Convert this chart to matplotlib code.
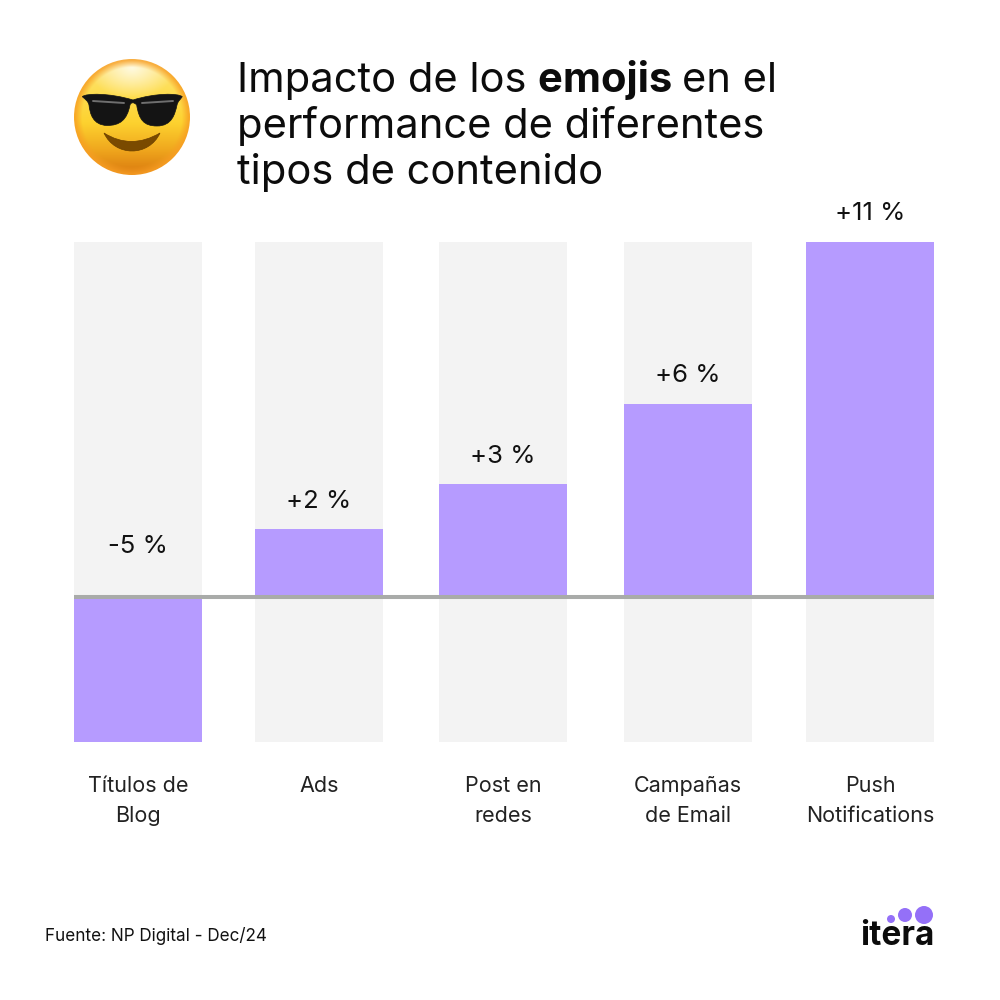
import numpy as np
import matplotlib
matplotlib.use("Agg")
import matplotlib.pyplot as plt
from matplotlib.patches import Circle, Ellipse, PathPatch
from matplotlib.path import Path
from matplotlib.colors import LinearSegmentedColormap

categories = ["Títulos de\nBlog", "Ads", "Post en\nredes", "Campañas\nde Email", "Push\nNotifications"]
bar_heights = [-4.51, 2.09, 3.49, 5.99, 11.0]
value_labels = ["-5 %", "+2 %", "+3 %", "+6 %", "+11 %"]
source = "Fuente: NP Digital - Dec/24"

FONT = "Inter"
PURPLE = "#B69BFF"
GREY = "#F3F3F3"
plt.rcParams["font.family"] = FONT

W = 1000
fig = plt.figure(figsize=(10, 10), dpi=100, facecolor="white")

def px_axes(l, t, r, b):
    return fig.add_axes([l / W, 1 - b / W, (r - l) / W, (b - t) / W])

centers = [138, 319, 503, 688, 870]
ax = px_axes(74, 242, 934, 742)
ax.set_xlim(74, 934)
ax.set_ylim(-4.51, 11)
ax.axis("off")
ax.bar(centers, [11 + 4.51] * 5, bottom=-4.51, width=128, color=GREY, linewidth=0, zorder=1)
ax.bar(centers, bar_heights, width=128, color=PURPLE, linewidth=0, zorder=2)
ax.plot([74, 934], [0, 0], color="#A9ABA9", lw=2.9, solid_capstyle="butt", zorder=3)

for c, h, t in zip(centers, bar_heights, value_labels):
    base, off = (h, 28) if h > 0 else (0, 50)
    ax.annotate(t, (c, base), xytext=(0, off * 0.72), textcoords="offset points",
                ha="center", va="center", fontsize=18.5, color="#111111", annotation_clip=False)

ov = fig.add_axes([0, 0, 1, 1], zorder=5)
ov.set_xlim(0, 1000)
ov.set_ylim(1000, 0)
ov.axis("off")
ov.patch.set_alpha(0)

for c, t in zip(centers, categories):
    ov.text(c, 776.5, t, ha="center", va="top", fontsize=15.5, color="#222222", linespacing=1.6,
            multialignment="center")

ov.text(45, 936, source, ha="left", va="center", fontsize=12.3, color="#111111")

# title
fig.canvas.draw()
rend = fig.canvas.get_renderer()
def run(x, y, s, weight="normal", size=30):
    t = ov.text(x, y, s, fontsize=size, fontweight=weight, color="#0c0c0c", ha="left", va="baseline")
    return x + t.get_window_extent(rend).width

x = run(237, 91.5, "Impacto de los\u00a0")
x = run(x, 91.5, "emojis\u00a0", "bold")
run(x, 91.5, "en el")
run(237, 137.5, "performance de diferentes")
run(237, 183.5, "tipos de contenido")

# emoji
cx, cy, r = 132, 117, 58
yy, xx = np.mgrid[-1:1:300j, -1:1:300j]
t = (yy + 1) / 2
grad = LinearSegmentedColormap.from_list("e", [(0, "#FDE47A"), (0.3, "#FEDD50"), (0.55, "#FDD22F"),
                                               (0.78, "#F0A81E"), (1, "#D9780E")])
img = grad(t)
d = np.sqrt(xx ** 2 + ((yy + 0.85) / 0.7) ** 2)
hl = np.clip(1 - d / 0.75, 0, 1)[..., None]
img[..., :3] = img[..., :3] * (1 - hl) + np.array([1.0, 0.98, 0.88]) * hl
rad = np.sqrt(xx ** 2 + yy ** 2)
rim = np.clip((rad - 0.86) / 0.12, 0, 1)[..., None] * 0.8
img[..., :3] = img[..., :3] * (1 - rim) + np.array([0.97, 0.62, 0.14]) * rim
im = ov.imshow(img, extent=(cx - r, cx + r, cy + r, cy - r), zorder=6, interpolation="bilinear", aspect="auto")
im.set_clip_path(Circle((cx, cy), r, transform=ov.transData))
ov.set_xlim(0, 1000)
ov.set_ylim(1000, 0)

M, L, C, Z = Path.MOVETO, Path.LINETO, Path.CURVE4, Path.CLOSEPOLY
verts = [(82.3, 96.7),
         (86, 100), (88, 101), (89, 105),
         (90, 114), (93, 125), (107, 125.5),
         (120, 125.5), (127, 120), (130, 105),
         (131, 102), (134, 102), (136.7, 105),
         (139, 120), (144, 126), (157, 126),
         (172, 126), (175, 114), (177, 105),
         (178, 101), (180, 100), (182.3, 96.7),
         (178, 93), (155, 93), (133, 100),
         (110, 93), (86, 93), (82.3, 96.7),
         (82.3, 96.7)]
codes = [M] + [C] * 27 + [Z]
ov.add_patch(PathPatch(Path(verts, codes), fc="#141414", ec="#141414", lw=0.5, zorder=8))
for xs, ys in [([93, 124], [101, 103]), ([142, 173], [103, 101])]:
    ov.plot(xs, ys, color="#6f6f6f", lw=1.4, zorder=9, solid_capstyle="round")

smile = Path([(104, 133), (131, 150), (160, 133), (149, 157), (115, 157), (104, 133), (104, 133)],
             [M, Path.CURVE3, Path.CURVE3, C, C, C, Z])
ov.add_patch(PathPatch(smile, fc="#7A4A00", ec="#6b4000", lw=0.5, zorder=8))

# logo
for lx, ly, lr in [(891, 919, 4), (905, 915, 7), (924, 915, 9)]:
    ov.add_patch(Ellipse((lx, ly), 2 * lr, 2 * lr, fc="#9470F8", ec="none", zorder=8))
ov.text(897.5, 945, "itera", ha="center", va="baseline", fontsize=24, fontweight="bold", color="#0c0c0c")

fig.savefig("out.png", dpi=100, facecolor="white")
